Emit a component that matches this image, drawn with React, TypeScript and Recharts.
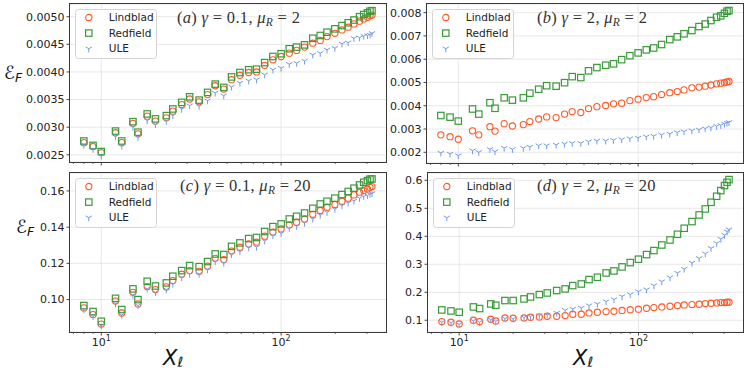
import React from "react";
import { ScatterChart, Scatter, XAxis, YAxis, CartesianGrid, ReferenceLine } from "recharts";

// system size X_l (shared by every panel)
const xL = [8, 9, 10, 12, 13, 15, 16, 18, 20, 23, 25, 28, 31, 35, 39, 43, 48, 53, 59, 66, 73, 81, 90, 100,
  111, 122, 135, 150, 165, 180, 199, 218, 236, 254, 273, 288, 302, 312, 320];

// (a) gamma = 0.1, mu_R = 2
const aLind = [0.00272, 0.00265, 0.00254, 0.0029, 0.00272, 0.00307, 0.00288, 0.0032, 0.00311, 0.00317, 0.00329, 0.00341,
  0.00351, 0.00346, 0.00359, 0.00375, 0.00369, 0.00386, 0.00394, 0.00399, 0.004, 0.00412, 0.00422, 0.00428,
  0.00434, 0.00439, 0.00445, 0.00452, 0.00457, 0.00464, 0.0047, 0.00476, 0.00481, 0.00487, 0.00492, 0.00496, 0.00499, 0.00502, 0.00503];
const aRed = [0.00275, 0.00267, 0.00256, 0.00293, 0.00275, 0.0031, 0.00291, 0.00324, 0.00315, 0.00321, 0.00333, 0.00345,
  0.00355, 0.00349, 0.00363, 0.00378, 0.00372, 0.00391, 0.00399, 0.00404, 0.00405, 0.00417, 0.00428, 0.00433,
  0.00442, 0.00445, 0.00449, 0.00461, 0.00466, 0.00472, 0.00478, 0.00484, 0.00489, 0.00494, 0.005, 0.00504, 0.00507, 0.0051, 0.00511];
const aUle = [0.00268, 0.0026, 0.00248, 0.00283, 0.00266, 0.003, 0.00282, 0.00312, 0.00305, 0.00311, 0.00321, 0.00333,
  0.00339, 0.00338, 0.00348, 0.00362, 0.00357, 0.00373, 0.0038, 0.00384, 0.00386, 0.00395, 0.00404, 0.00407,
  0.00414, 0.00416, 0.0042, 0.00431, 0.00434, 0.0044, 0.00443, 0.00451, 0.00453, 0.00461, 0.00462, 0.00465, 0.00466, 0.00467, 0.0047];

// (b) gamma = 2, mu_R = 2
const bLind = [0.00275, 0.00267, 0.00256, 0.00292, 0.00275, 0.0031, 0.00291, 0.00323, 0.00313, 0.00319, 0.00332, 0.00343,
  0.00352, 0.00349, 0.00364, 0.00375, 0.00371, 0.00388, 0.00396, 0.00401, 0.00408, 0.00411, 0.00422, 0.00428,
  0.00435, 0.00439, 0.00448, 0.00456, 0.00461, 0.00468, 0.00477, 0.0048, 0.00484, 0.00489, 0.00494, 0.00497, 0.00499, 0.00502, 0.00504];
const bRed = [0.00358, 0.00351, 0.00334, 0.00386, 0.00364, 0.00413, 0.00389, 0.00434, 0.00424, 0.00434, 0.00454, 0.00471,
  0.00486, 0.00484, 0.00499, 0.00525, 0.00521, 0.0055, 0.00564, 0.00574, 0.0058, 0.00598, 0.00615, 0.00627,
  0.0064, 0.00648, 0.00663, 0.00684, 0.00696, 0.00709, 0.00723, 0.0074, 0.00751, 0.00766, 0.0078, 0.00786, 0.00797, 0.00806, 0.00809];
const bUle = [0.00197, 0.00193, 0.00186, 0.00207, 0.002, 0.00213, 0.00203, 0.00218, 0.00213, 0.00218, 0.00223, 0.00229,
  0.00229, 0.00232, 0.00236, 0.00239, 0.00239, 0.00246, 0.00249, 0.00249, 0.00252, 0.00255, 0.00259, 0.00262,
  0.00267, 0.0027, 0.00275, 0.00279, 0.00285, 0.00289, 0.00293, 0.00297, 0.00302, 0.00306, 0.00312, 0.00316, 0.00322, 0.00326, 0.00329];

// (c) gamma = 0.1, mu_R = 20
const cLind = [0.0954, 0.0917, 0.0865, 0.0992, 0.0926, 0.104, 0.0976, 0.1072, 0.1055, 0.107, 0.1105, 0.114,
  0.116, 0.1156, 0.1184, 0.1228, 0.1221, 0.1268, 0.1289, 0.1307, 0.1317, 0.135, 0.1372, 0.139,
  0.1412, 0.1427, 0.1445, 0.1471, 0.1492, 0.151, 0.1525, 0.1543, 0.156, 0.1578, 0.1593, 0.1602, 0.1611, 0.162, 0.1624];
const cRed = [0.0967, 0.0934, 0.088, 0.1007, 0.0945, 0.1059, 0.1, 0.1101, 0.1075, 0.1092, 0.1129, 0.116,
  0.1188, 0.1182, 0.121, 0.1252, 0.1249, 0.1294, 0.1313, 0.1337, 0.1343, 0.1376, 0.1403, 0.1418,
  0.1445, 0.146, 0.1478, 0.1504, 0.1528, 0.1543, 0.156, 0.158, 0.1597, 0.1615, 0.1633, 0.1648, 0.1657, 0.1665, 0.1666];
const cUle = [0.0945, 0.0908, 0.0856, 0.0978, 0.0915, 0.1025, 0.0967, 0.1059, 0.104, 0.1055, 0.1086, 0.1122,
  0.1141, 0.1141, 0.1166, 0.121, 0.1202, 0.125, 0.1265, 0.1287, 0.129, 0.1324, 0.1354, 0.1366,
  0.1394, 0.1405, 0.1423, 0.1445, 0.1467, 0.1482, 0.15, 0.1519, 0.1534, 0.1545, 0.156, 0.1569, 0.1575, 0.1582, 0.1586];

// (d) gamma = 2, mu_R = 20
const dLind = [0.0954, 0.0929, 0.0868, 0.1, 0.0954, 0.1036, 0.0975, 0.1082, 0.1071, 0.1082, 0.1107, 0.1118,
  0.1143, 0.1143, 0.1168, 0.1214, 0.1214, 0.1261, 0.1286, 0.1311, 0.1321, 0.135, 0.1375, 0.1395,
  0.1429, 0.1454, 0.1475, 0.15, 0.1525, 0.1546, 0.1561, 0.1571, 0.1596, 0.1607, 0.1618, 0.1632, 0.1632, 0.1643, 0.1643];
const dRed = [0.1368, 0.1332, 0.1286, 0.1475, 0.1418, 0.1582, 0.1536, 0.1704, 0.1704, 0.1761, 0.1832, 0.1918,
  0.1975, 0.2061, 0.2118, 0.2239, 0.2296, 0.2454, 0.2536, 0.2689, 0.2761, 0.2905, 0.306, 0.318,
  0.3346, 0.3489, 0.3689, 0.3868, 0.4071, 0.4286, 0.4525, 0.4761, 0.4975, 0.5214, 0.5429, 0.5632, 0.5811, 0.5929, 0.6025];
const dUle = [0.093, 0.091, 0.085, 0.098, 0.093, 0.102, 0.096, 0.106, 0.105, 0.1096, 0.1132, 0.1168,
  0.119, 0.1261, 0.1357, 0.1404, 0.1439, 0.1525, 0.1582, 0.1668, 0.1739, 0.185, 0.192, 0.2025,
  0.2096, 0.2239, 0.2382, 0.2525, 0.269, 0.2832, 0.3046, 0.3214, 0.338, 0.3571, 0.375, 0.3904, 0.4046, 0.4168, 0.4239];

const xTicks = [7, 8, 9, 10, 20, 30, 40, 50, 60, 70, 80, 90, 100, 200, 300];
const xMajor = [10, 100];
const aTicks = [0.0025, 0.003, 0.0035, 0.004, 0.0045, 0.005];
const bTicks = [0.002, 0.003, 0.004, 0.005, 0.006, 0.007, 0.008];
const cTicks = [0.1, 0.12, 0.14, 0.16];
const dTicks = [0.1, 0.2, 0.3, 0.4, 0.5, 0.6];

const C_L = "#ff5a26";
const C_R = "#3a9a3a";
const C_U = "#7199ee";
const FONT = "DejaVu Sans";

const pts = (ys: number[]) => xL.map((x, i) => ({ x, y: ys[i] }));

const Ring = ({ cx, cy }: any) => (
  <circle cx={cx} cy={cy} r={3.1} fill="none" stroke={C_L} strokeWidth={1.1} />
);
const Box = ({ cx, cy }: any) => (
  <rect x={cx - 3.2} y={cy - 3.2} width={6.4} height={6.4} fill="none" stroke={C_R} strokeWidth={1.2} />
);
const Tri = ({ cx, cy }: any) => {
  const r = 3.6;
  return (
    <path
      d={`M${cx},${cy}L${cx},${cy + r}M${cx},${cy}L${cx - 0.866 * r},${cy - 0.5 * r}M${cx},${cy}L${cx + 0.866 * r},${cy - 0.5 * r}`}
      stroke={C_U}
      strokeWidth={1}
      fill="none"
    />
  );
};

const XTick = ({ x, y, payload, labels }: any) => {
  const v = payload.value;
  const major = xMajor.includes(v);
  return (
    <g>
      <line x1={x} x2={x} y1={y} y2={y + (major ? 3.5 : 2)} stroke="#333" strokeWidth={major ? 0.9 : 0.7} />
      {labels && major && (
        <text x={x} y={y + 14} textAnchor="middle" fontSize={11} fontFamily={FONT} fill="#222">
          10<tspan dy={-5} fontSize={8}>{v === 10 ? "1" : "2"}</tspan>
        </text>
      )}
    </g>
  );
};

const LegendBox = ({ left, top }: { left: number; top: number }) => {
  const rows = [
    { name: "Lindblad", Mark: Ring },
    { name: "Redfield", Mark: Box },
    { name: "ULE", Mark: Tri },
  ];
  return (
    <svg width={82} height={50} style={{ position: "absolute", left, top }}>
      <rect x={0.5} y={0.5} width={81} height={49} rx={3} fill="rgba(255,255,255,0.85)" stroke="#d4d4d4" />
      {rows.map((r, i) => (
        <g key={r.name}>
          <r.Mark cx={13.8} cy={8.5 + i * 15.6} />
          <text x={33.8} y={12.2 + i * 15.6} fontSize={10.5} fontFamily={FONT} fill="#222">{r.name}</text>
        </g>
      ))}
    </svg>
  );
};

type PanelProps = {
  left: number; top: number; w: number; h: number;
  domain: [number, number]; ticks: number[]; digits: number;
  lind: number[]; red: number[]; ule: number[]; labels: boolean;
};

const YW = 70;

const Panel = ({ left, top, w, h, domain, ticks, digits, lind, red, ule, labels }: PanelProps) => (
  <>
    <div style={{ position: "absolute", left: left - YW, top: top - 4 }}>
      <ScatterChart width={YW + w + 6} height={4 + h + 32} margin={{ top: 4, right: 6, bottom: 0, left: 0 }}>
        <CartesianGrid vertical={false} stroke="#e2e2e2" strokeWidth={0.8} />
        {xMajor.map((v) => (
          <ReferenceLine key={v} x={v} stroke="#e2e2e2" strokeWidth={0.8} />
        ))}
        <XAxis
          type="number"
          dataKey="x"
          scale="log"
          domain={[6.7, 383]}
          allowDataOverflow
          ticks={xTicks}
          interval={0}
          axisLine={false}
          tickLine={false}
          tickSize={0}
          tickMargin={0}
          height={32}
          tick={<XTick labels={labels} />}
        />
        <YAxis
          type="number"
          dataKey="y"
          domain={domain}
          allowDataOverflow
          ticks={ticks}
          interval={0}
          width={YW}
          axisLine={false}
          tickSize={3.5}
          tickMargin={2}
          tickLine={{ stroke: "#333", strokeWidth: 0.9 }}
          tick={{ fontSize: 11, fontFamily: FONT, fill: "#222" }}
          tickFormatter={(v: number) => v.toFixed(digits)}
        />
        <Scatter data={pts(lind)} shape={Ring} isAnimationActive={false} />
        <Scatter data={pts(red)} shape={Box} isAnimationActive={false} />
        <Scatter data={pts(ule)} shape={Tri} isAnimationActive={false} />
      </ScatterChart>
    </div>
    <div
      style={{
        position: "absolute", left: left - 0.7, top: top - 0.7, width: w + 1.4, height: h + 1.4,
        border: "1.4px solid #3a3a3a", boxSizing: "border-box", pointerEvents: "none",
      }}
    />
    <LegendBox left={left + 5} top={top + 5} />
  </>
);

const Title = ({ x, y, tag, g, mu }: { x: number; y: number; tag: string; g: string; mu: string }) => (
  <text x={x} y={y} fontFamily="Liberation Serif" fontSize={16.5} fill="#333" letterSpacing={0.3}>
    (<tspan fontStyle="italic">{tag}</tspan>){" "}
    <tspan fontStyle="italic">γ</tspan>{` = ${g}, `}
    <tspan fontStyle="italic">μ</tspan>
    <tspan fontStyle="italic" fontSize={11.5} dy={3}>R</tspan>
    <tspan dy={-3}>{` = ${mu}`}</tspan>
  </text>
);

const YLab = ({ x, y }: { x: number; y: number }) => (
  <text x={x} y={y} fontFamily={FONT} fill="#111">
    <tspan fontSize={18}>ℰ</tspan>
    <tspan fontSize={12.5} fontStyle="italic" dy={3}>F</tspan>
  </text>
);

const XLab = ({ x, y }: { x: number; y: number }) => (
  <text x={x} y={y} fontFamily={FONT} fill="#111">
    <tspan fontSize={21} fontStyle="italic">X</tspan>
    <tspan fontSize={14} fontStyle="italic" dy={2}>ℓ</tspan>
  </text>
);

export default function App() {
  return (
    <div style={{ position: "absolute", left: 0, top: 0, width: 747, height: 371, background: "#fff", overflow: "hidden" }}>
      <Panel left={70} top={4} w={316} h={158} domain={[0.00237, 0.00523]} ticks={aTicks} digits={4} lind={aLind} red={aRed} ule={aUle} labels={false} />
      <Panel left={427} top={4} w={316} h={159} domain={[0.00154, 0.00837]} ticks={bTicks} digits={3} lind={bLind} red={bRed} ule={bUle} labels={false} />
      <Panel left={70} top={173} w={316} h={159} domain={[0.0821, 0.1699]} ticks={cTicks} digits={2} lind={cLind} red={cRed} ule={cUle} labels={true} />
      <Panel left={428} top={173} w={315} h={159} domain={[0.058, 0.626]} ticks={dTicks} digits={1} lind={dLind} red={dRed} ule={dUle} labels={true} />
      <svg width={747} height={371} style={{ position: "absolute", left: 0, top: 0, pointerEvents: "none" }}>
        <Title x={177} y={22.5} tag="a" g="0.1" mu="2" />
        <Title x={537} y={22.5} tag="b" g="2" mu="2" />
        <Title x={180} y={190.5} tag="c" g="0.1" mu="20" />
        <Title x={537} y={191} tag="d" g="2" mu="20" />
        <YLab x={4} y={79} />
        <YLab x={16} y={233} />
        <XLab x={163} y={365} />
        <XLab x={573} y={365} />
      </svg>
    </div>
  );
}
